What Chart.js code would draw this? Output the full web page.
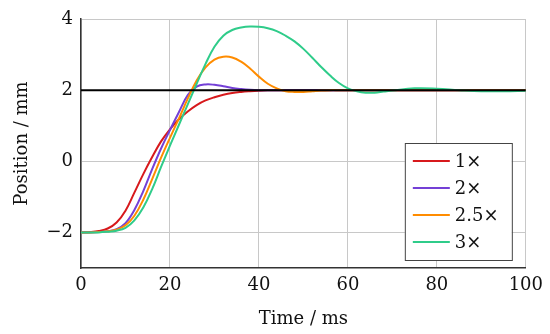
<!DOCTYPE html>
<html>
<head>
<meta charset="utf-8">
<script src="https://cdn.jsdelivr.net/npm/chart.js@4/dist/chart.umd.min.js"></script>
<style>
html,body{margin:0;padding:0;background:#fff}
#wrap{width:550px;height:334px}
</style>
</head>
<body>
<div id="wrap"><canvas id="c"></canvas></div>
<script>
// Zeitachse (ms) und Positionen (mm) je Verstärkung
const timeMs=[0,2,4,6,8,10,12,14,16,18,20,22,24,26,28,30,32,34,36,38,40,42,44,46,48,50,52,54,56,58,60,62,64,66,68,70,75,80,85,90,95,100];

const pos1x=[-2,-1.99,-1.96,-1.89,-1.72,-1.39,-0.88,-0.36,0.12,0.56,0.9,1.18,1.4,1.58,1.71,1.8,1.87,1.92,1.95,1.97,1.985,1.995,2,
  2,2,2,2,2,2,2,2,2,2,2,2,2, 2,2,2,2,2,2];
const pos2x=[-2,-2,-1.99,-1.97,-1.91,-1.74,-1.37,-0.84,-0.22,0.36,0.88,1.38,1.86,2.1,2.16,2.15,2.11,2.06,2.03,2.01,2,
  2,2,2,2,2,2,2,2,2,2,2,2,2,2,2, 2,2,2,2,2,2];
const pos25x=[-2,-2,-1.99,-1.97,-1.92,-1.8,-1.53,-1.08,-0.5,0.1,0.66,1.2,1.76,2.27,2.64,2.86,2.94,2.92,2.8,2.61,2.38,2.18,2.05,1.97,1.95,1.95,1.97,1.99,2,
  2,2,2,2,2,2,2, 2,2,2,2,2,2];
const pos3x=[-2,-2,-2,-1.98,-1.95,-1.87,-1.66,-1.3,-0.78,-0.16,0.44,1.02,1.6,2.18,2.74,3.22,3.53,3.69,3.76,3.79,3.78,3.74,3.66,3.53,3.37,3.16,2.91,2.65,2.41,2.2,2.05,1.97,1.93,1.93,1.96,1.99,
  2.05,2.04,2,1.97,1.97,1.98];
const targetMs=[0,100];
const targetPos=[2,2];

const seriesLabels=["1×","2×","2.5×","3×"];
const seriesColors=["#d7191c","#7440d6","#ff8c00","#2fcc8a"];

const xTicks=[0,20,40,60,80,100];
const yTicks=[-2,0,2,4];

const FONT="'DejaVu Serif', serif";

function pts(xs,ys){ return xs.map((x,i)=>({x,y:ys[i]})); }

// Legende als Kasten innen rechts unten (wie pgfplots)
const boxLegend={
  id:"boxLegend",
  afterDraw(chart){
    const ctx=chart.ctx, a=chart.chartArea;
    const w=107,h=117;
    const x=a.right-14-w, y=a.bottom-8-h;
    ctx.save();
    ctx.fillStyle="#fff";
    ctx.fillRect(x,y,w,h);
    ctx.strokeStyle="#444";
    ctx.lineWidth=1;
    ctx.strokeRect(x+0.5,y+0.5,w,h);
    ctx.font="18px "+FONT;
    ctx.textBaseline="middle";
    seriesLabels.forEach((lab,i)=>{
      const cy=y+18+i*27;
      ctx.strokeStyle=seriesColors[i];
      ctx.lineWidth=2;
      ctx.beginPath();
      ctx.moveTo(x+8,cy);
      ctx.lineTo(x+45,cy);
      ctx.stroke();
      ctx.fillStyle="#111";
      ctx.fillText(lab,x+50,cy+1);
    });
    ctx.restore();
  }
};

const lineDs=(label,data,color,order)=>({
  label,data,borderColor:color,borderWidth:2,pointRadius:0,
  tension:0.4,fill:false,order
});

new Chart(document.getElementById("c"),{
  type:"line",
  data:{
    datasets:[
      lineDs("Ziel",pts(targetMs,targetPos),"#000",0),
      lineDs(seriesLabels[3],pts(timeMs,pos3x),seriesColors[3],1),
      lineDs(seriesLabels[2],pts(timeMs,pos25x),seriesColors[2],2),
      lineDs(seriesLabels[1],pts(timeMs,pos2x),seriesColors[1],3),
      lineDs(seriesLabels[0],pts(timeMs,pos1x),seriesColors[0],4)
    ]
  },
  options:{
    responsive:true,
    maintainAspectRatio:false,
    animation:false,
    layout:{padding:{top:19,right:24,left:0,bottom:0}},
    plugins:{legend:{display:false},tooltip:{enabled:false}},
    scales:{
      x:{
        type:"linear",min:0,max:100,
        afterBuildTicks:(s)=>{ s.ticks=xTicks.map(v=>({value:v})); },
        afterFit:(s)=>{ s.height=66; },
        grid:{color:"#c8c8c8",lineWidth:1,drawTicks:false},
        border:{color:"#333",width:1.5},
        ticks:{color:"#111",padding:7,font:{family:FONT,size:18},maxRotation:0},
        title:{display:true,text:"Time / ms",color:"#111",font:{family:FONT,size:18},padding:{top:0,bottom:4}}
      },
      y:{
        type:"linear",min:-3,max:4,
        afterBuildTicks:(s)=>{ s.ticks=yTicks.map(v=>({value:v})); },
        afterFit:(s)=>{ s.width=81; },
        grid:{color:"#c8c8c8",lineWidth:1,drawTicks:false},
        border:{color:"#333",width:1.5},
        ticks:{color:"#111",padding:8,font:{family:FONT,size:18},
          callback:(v)=>String(v).replace("-","\u2212")},
        title:{display:true,text:"Position / mm",color:"#111",font:{family:FONT,size:18},padding:{top:12,bottom:0}}
      }
    }
  },
  plugins:[boxLegend]
});
</script>
</body>
</html>
